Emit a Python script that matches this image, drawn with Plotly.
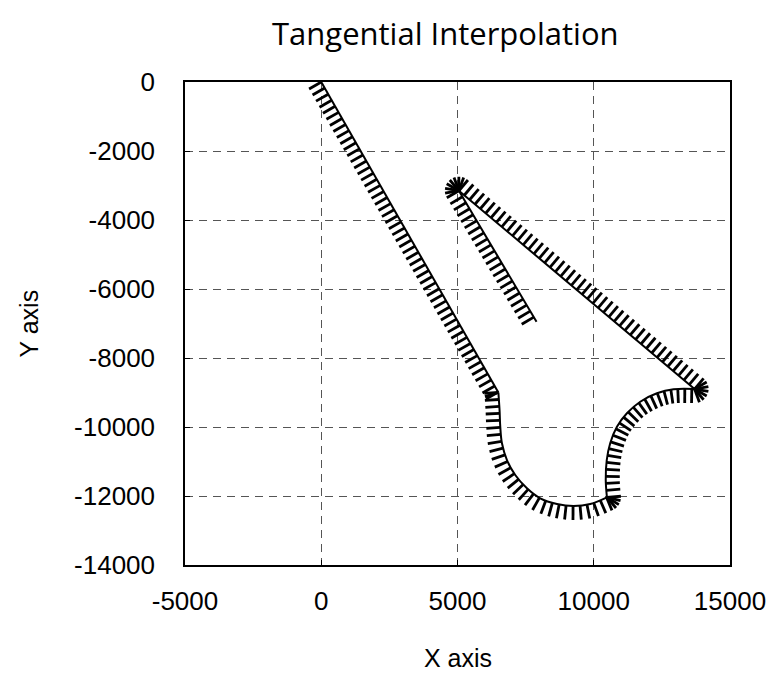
import math
import plotly.graph_objects as go

# ---- data ----
line1_x = [0, 6500]
line1_y = [0, -9000]
arc2_x = [6500, 6543, 6569, 6631, 6815, 7119, 7549, 8037, 8649, 9259, 9872, 10484]
arc2_y = [-9000, -9507, -9991, -10472, -10957, -11391, -11777, -12067, -12232, -12290, -12232, -12038]
arc3_x = [10484, 10440, 10477, 10606, 10851, 11218, 11706, 12319, 12928, 13700]
arc3_y = [-12038, -11536, -10957, -10464, -9991, -9603, -9267, -9023, -8907, -8900]
line4_x = [13700, 5050]
line4_y = [-8900, -3150]
line5_x = [5050, 7900]
line5_y = [-3150, -6950]

x_ticks = [-5000, 0, 5000, 10000, 15000]
y_ticks = [0, -2000, -4000, -6000, -8000, -10000, -12000, -14000]

# ---- layout constants ----
W, H = 772, 675
ML, MR, MT, MB = 185, 42, 82, 110
XR = [-5000, 15000]
YR = [-14000, 0]
PW, PH = W - ML - MR, H - MT - MB
SX = PW / (XR[1] - XR[0])
SY = PH / (YR[1] - YR[0])

HATCH_LEN = 14.0
HATCH_STEP = 7.0


def to_px(x, y):
    return ((x - XR[0]) * SX, (YR[1] - y) * SY)


def from_px(px, py):
    return (px / SX + XR[0], YR[1] - py / SY)


def catmull(pts, n=24):
    out = []
    m = len(pts)
    for i in range(m - 1):
        p0 = pts[i - 1] if i > 0 else pts[i]
        p1 = pts[i]
        p2 = pts[i + 1]
        p3 = pts[i + 2] if i + 2 < m else pts[i + 1]
        for k in range(n):
            t = k / n
            t2, t3 = t * t, t * t * t
            out.append(tuple(0.5 * (2 * p1[j] + (-p0[j] + p2[j]) * t
                                    + (2 * p0[j] - 5 * p1[j] + 4 * p2[j] - p3[j]) * t2
                                    + (-p0[j] + 3 * p1[j] - 3 * p2[j] + p3[j]) * t3)
                             for j in range(2)))
    out.append(pts[-1])
    return out


segments = [
    (line1_x, line1_y, False),
    (arc2_x, arc2_y, True),
    (arc3_x, arc3_y, True),
    (line4_x, line4_y, False),
    (line5_x, line5_y, False),
]

hx, hy = [], []


def add_hatch(p, ang):
    q = (p[0] + HATCH_LEN * math.cos(ang), p[1] + HATCH_LEN * math.sin(ang))
    a = from_px(*p)
    b = from_px(*q)
    hx.extend([a[0], b[0], None])
    hy.extend([a[1], b[1], None])


prev_dir = None
for xs, ys, smooth in segments:
    pts = [to_px(x, y) for x, y in zip(xs, ys)]
    dense = catmull(pts) if smooth else pts
    d0 = math.atan2(dense[1][1] - dense[0][1], dense[1][0] - dense[0][0])
    if prev_dir is not None:
        turn = (d0 - prev_dir + math.pi) % (2 * math.pi) - math.pi
        nfan = int(abs(turn) / math.radians(22))
        for k in range(1, nfan + 1):
            add_hatch(dense[0], prev_dir + turn * k / (nfan + 1) + math.pi / 2)
    acc = 0.0
    nxt = 0.0
    for i in range(len(dense) - 1):
        a, b = dense[i], dense[i + 1]
        L = math.hypot(b[0] - a[0], b[1] - a[1])
        if L == 0:
            continue
        d = math.atan2(b[1] - a[1], b[0] - a[0])
        while nxt <= acc + L:
            t = (nxt - acc) / L
            p = (a[0] + (b[0] - a[0]) * t, a[1] + (b[1] - a[1]) * t)
            add_hatch(p, d + math.pi / 2)
            nxt += HATCH_STEP
        acc += L
        prev_dir = d

fig = go.Figure()
for xs, ys, smooth in segments:
    fig.add_trace(go.Scatter(x=xs, y=ys, mode="lines",
                             line=dict(color="black", width=2,
                                       shape="spline" if smooth else "linear"),
                             hoverinfo="skip", showlegend=False))
fig.add_trace(go.Scatter(x=hx, y=hy, mode="lines",
                         line=dict(color="black", width=2.8),
                         hoverinfo="skip", showlegend=False))

font_tick = dict(family="Liberation Sans, Arial, sans-serif", size=26, color="black")
axis_common = dict(showline=True, mirror=True, linecolor="black", linewidth=1.5,
                   showgrid=True, gridcolor="#555555", gridwidth=1.3, griddash="8px,6px",
                   zeroline=False, ticks="inside", ticklen=5, tickcolor="black",
                   tickfont=font_tick, automargin=False)

fig.update_layout(
    width=W, height=H,
    margin=dict(l=ML, r=MR, t=MT, b=MB, autoexpand=False),
    paper_bgcolor="white", plot_bgcolor="white",
    xaxis=dict(range=XR, tickvals=x_ticks, ticktext=[str(v) for v in x_ticks],
               ticklabelstandoff=12, **axis_common),
    yaxis=dict(range=YR, tickvals=y_ticks, ticktext=[str(v) for v in y_ticks],
               ticklabelstandoff=23, **axis_common),
    annotations=[
        dict(text="Tangential Interpolation", xref="paper", yref="paper",
             x=(445 - ML) / PW, y=1 + (MT - 33) / PH, xanchor="center", yanchor="middle",
             showarrow=False,
             font=dict(family="Open Sans, Noto Sans, sans-serif", size=31, color="black")),
        dict(text="X axis", xref="paper", yref="paper", x=0.5, y=-(658 - (H - MB)) / PH,
             xanchor="center", yanchor="middle", showarrow=False,
             font=dict(family="Liberation Sans, Arial, sans-serif", size=25, color="black")),
        dict(text="Y axis", xref="paper", yref="paper", x=(28 - ML) / PW, y=0.5,
             xanchor="center", yanchor="middle", showarrow=False, textangle=-90,
             font=dict(family="Liberation Sans, Arial, sans-serif", size=25, color="black")),
    ],
)

fig.write_html("out.html", config={"displayModeBar": False},
               post_script="document.body.style.margin='0px';")
